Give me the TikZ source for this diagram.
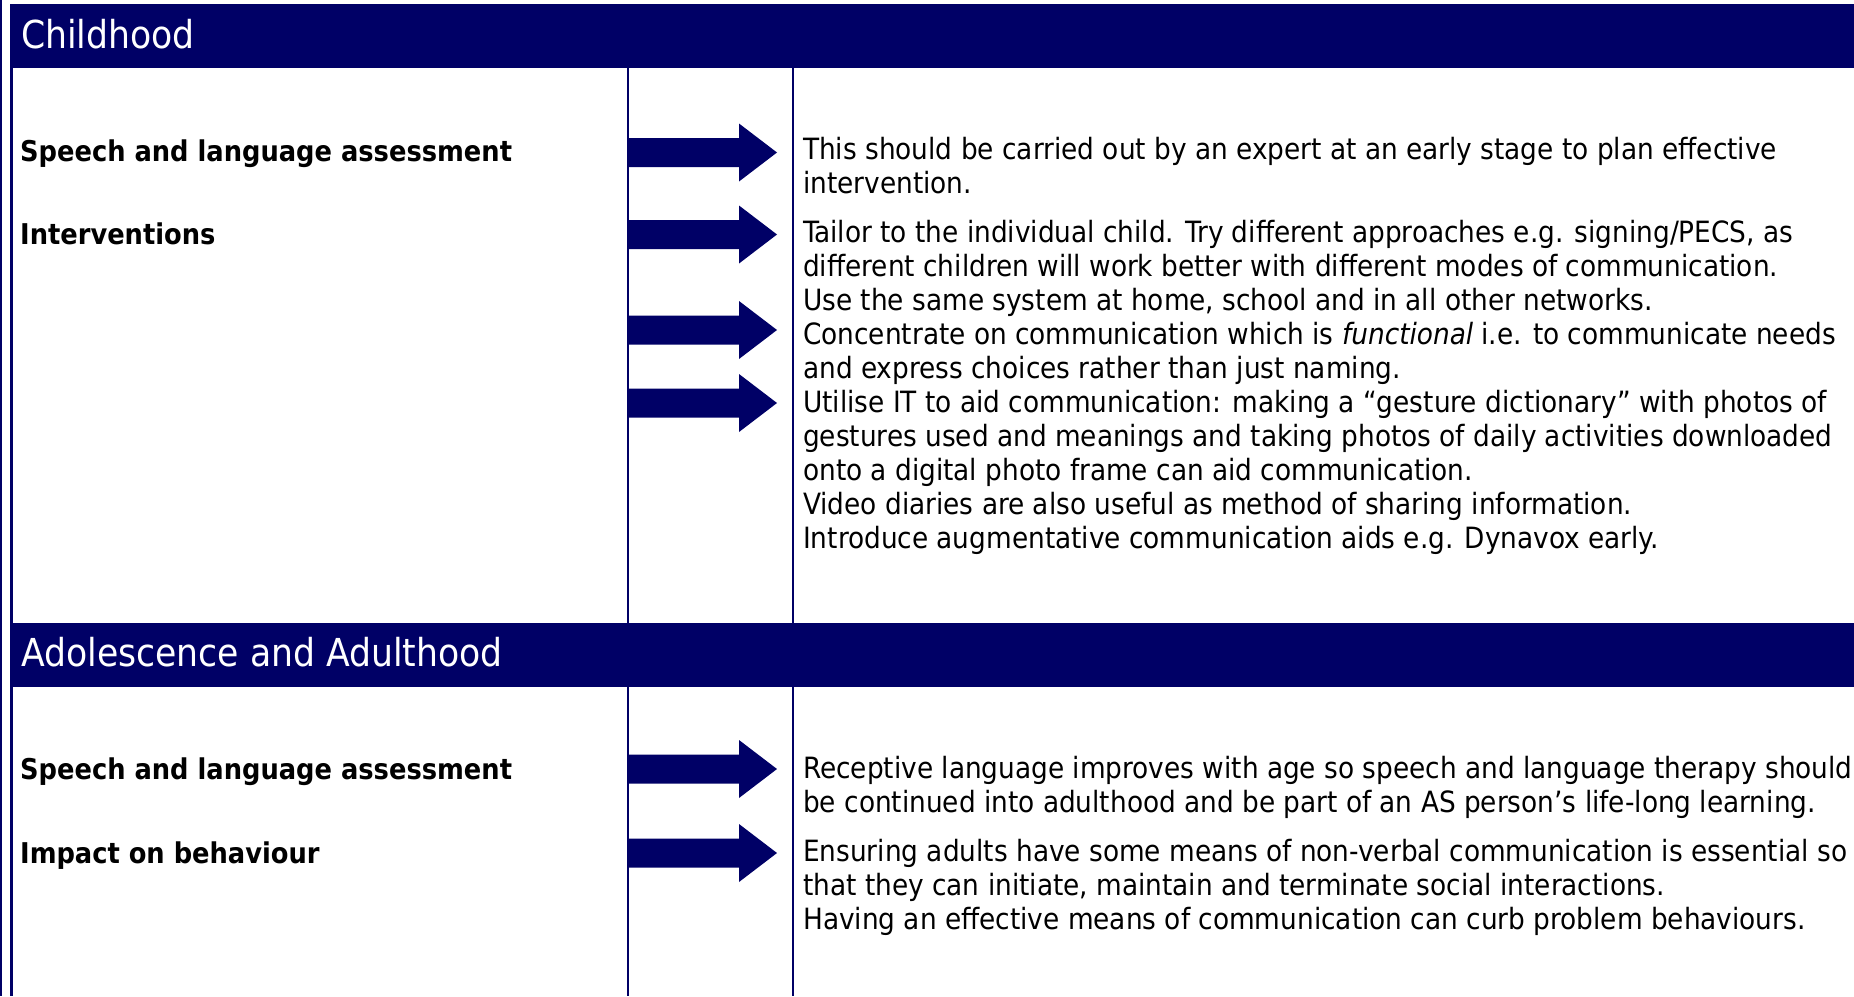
\documentclass[tikz,border=0pt]{standalone}
\usepackage{fontspec}
\setmainfont{DejaVu Sans Condensed}
\usetikzlibrary{calc}
\definecolor{navy}{RGB}{0,0,102}
\tikzset{
  band/.style={fill=navy},
  bandtitle/.style={anchor=base west, text=white, inner sep=0pt, font=\fontsize{38.5}{44}\selectfont},
  topic/.style={anchor=base west, inner sep=0pt, font=\fontsize{28.6}{34}\selectfont\bfseries},
  advice/.style={anchor=base west, inner sep=0pt, align=left, font=\fontsize{29.3}{34}\selectfont},
  divider/.style={navy, line width=2.7pt},
  bigarrow/.style={fill=navy}
}

\begin{document}
\begin{tikzpicture} [x=1pt, y=-1pt]
\useasboundingbox (0,0) rectangle (1854,996);
\draw[navy, line width=2pt] (1,0)--(1,996);
\draw[navy, line width=2.7pt] (11.4,4)--(11.4,996);

\fill[band] (10,4) rectangle (1854,67.5);
\fill[band] (10,623) rectangle (1854,687);
\node[bandtitle] (child) at (21,48) {Childhood};
\node[bandtitle] (adult) at (21,666) {Adolescence and Adulthood};

\foreach \x in {628, 793} {
  \draw[divider] (\x,67.5)--(\x,623);
  \draw[divider] (\x,687)--(\x,996);
}

\node[topic] (assess) at (20,161) {Speech and language assessment};
\node[topic] (interv) at (20,244) {Interventions};
\node[topic] (assess2) at (20,779) {Speech and language assessment};
\node[topic] (behav) at (20,863) {Impact on behaviour};

\foreach \y [count=\i] in {152.5, 234.5, 330, 403, 769, 853} {
  \coordinate (from\i) at (628,\y);
  \coordinate (to\i) at (777,\y);
  \fill[bigarrow] (from\i) ++(0,-14.5) --++(111,0) --++(0,-14.5) -- (to\i) --++(-38,29) --++(0,-14.5) --++(-111,0) -- cycle;
}

% base anchor sits on the last line
\node[advice] (expert) at (803,193) {This should be carried out by an expert at an early stage to plan effective\\intervention.};
\node[advice] (tailor) at (803,548) {Tailor to the individual child. Try different approaches e.g. signing/PECS, as\\different children will work better with different modes of communication.\\Use the same system at home, school and in all other networks.\\Concentrate on communication which is \textit{functional} i.e. to communicate needs\\and express choices rather than just naming.\\Utilise IT to aid communication: making a “gesture dictionary” with photos of\\gestures used and meanings and taking photos of daily activities downloaded\\onto a digital photo frame can aid communication.\\Video diaries are also useful as method of sharing information.\\Introduce augmentative communication aids e.g. Dynavox early.};
\node[advice] (recept) at (803,812) {Receptive language improves with age so speech and language therapy should\\be continued into adulthood and be part of an AS person’s life-long learning.};
\node[advice] (ensure) at (803,929) {Ensuring adults have some means of non-verbal communication is essential so\\that they can initiate, maintain and terminate social interactions.\\Having an effective means of communication can curb problem behaviours.};
\end{tikzpicture}
\end{document}
